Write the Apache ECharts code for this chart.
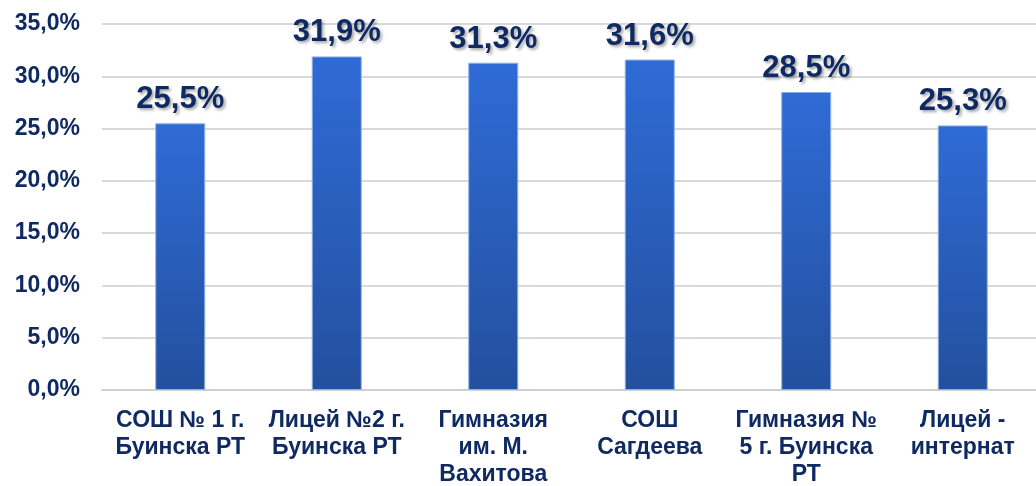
<!DOCTYPE html>
<html><head><meta charset="utf-8">
<script src="https://cdn.jsdelivr.net/npm/echarts@6/dist/echarts.min.js"></script>
<style>html,body{margin:0;padding:0;background:#fff}#c{width:1036px;height:486px}</style>
</head><body><div id="c"></div>
<script>
var categories = ["СОШ № 1 г.\nБуинска РТ", "Лицей №2 г.\nБуинска РТ", "Гимназия\nим. М.\nВахитова", "СОШ\nСагдеева", "Гимназия №\n5 г. Буинска\nРТ", "Лицей -\nинтернат"];
var values = [25.5, 31.9, 31.3, 31.6, 28.5, 25.3];
var yTicks = {min: 0, max: 35, interval: 5};

var fmt = function (v) { return v.toFixed(1).replace('.', ',') + '%'; };
var chart = echarts.init(document.getElementById('c'));
chart.setOption({
  animation: false,
  grid: {left: 102, right: -5, top: 24, bottom: 96, outerBoundsMode: 'none', containLabel: false},
  xAxis: {
    type: 'category', data: categories,
    axisTick: {show: false},
    axisLine: {lineStyle: {color: '#d0d0d0', width: 2}},
    axisLabel: {interval: 0, color: '#0f2a62', fontFamily: 'Liberation Sans, Arial', fontWeight: 'bold', fontSize: 23, lineHeight: 27, margin: 17}
  },
  yAxis: {
    type: 'value', min: yTicks.min, max: yTicks.max, interval: yTicks.interval,
    axisLine: {show: false}, axisTick: {show: false},
    splitLine: {lineStyle: {color: '#d9d9d9', width: 2}},
    axisLabel: {formatter: fmt, color: '#0f2a62', fontFamily: 'Liberation Sans, Arial', fontWeight: 'bold', fontSize: 23, margin: 22}
  },
  series: [{
    type: 'bar', data: values, barWidth: 50,
    itemStyle: {
      color: new echarts.graphic.LinearGradient(0, 0, 0, 1, [{offset: 0, color: '#2f6bd6'}, {offset: 1, color: '#23509e'}]),
      borderColor: '#8fb0e8', borderWidth: 1
    },
    label: {
      show: true, position: 'top', distance: 8, formatter: function (p) { return fmt(p.value); },
      color: '#0f2a62', fontFamily: 'Liberation Sans, Arial', fontWeight: 'bold', fontSize: 31,
      textShadowColor: 'rgba(0,0,0,0.35)', textShadowBlur: 3, textShadowOffsetX: 2, textShadowOffsetY: 2
    }
  }]
});
</script></body></html>
